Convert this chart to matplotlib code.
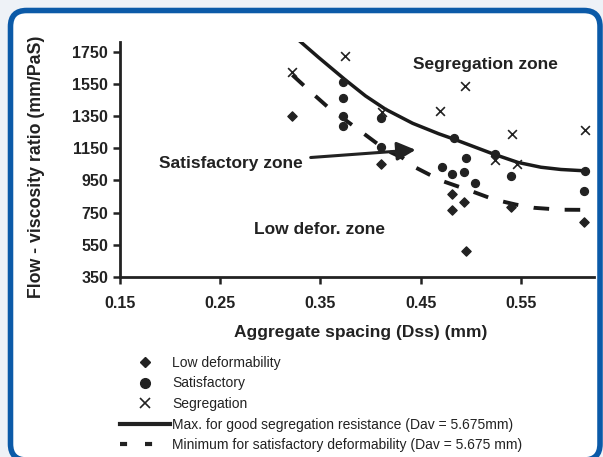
import matplotlib
matplotlib.use("Agg")
import matplotlib.pyplot as plt
from matplotlib.patches import FancyBboxPatch
from matplotlib.lines import Line2D
from matplotlib.transforms import IdentityTransform

plt.rcParams['font.family'] = ['Liberation Sans', 'DejaVu Sans']

# Data
low_x = [0.322, 0.410, 0.481, 0.481, 0.493, 0.495, 0.540, 0.613]
low_y = [1350, 1049, 863, 769, 813, 510, 786, 692]

sat_x = [0.373, 0.373, 0.373, 0.373, 0.410, 0.410, 0.483, 0.471, 0.481, 0.493, 0.495, 0.504, 0.524, 0.540, 0.614, 0.613]
sat_y = [1563, 1460, 1350, 1290, 1335, 1155, 1211, 1031, 993, 1003, 1087, 937, 1113, 977, 1008, 883]

seg_x = [0.322, 0.375, 0.411, 0.469, 0.494, 0.524, 0.541, 0.546, 0.614]
seg_y = [1626, 1723, 1377, 1381, 1537, 1080, 1238, 1051, 1263]

max_x = [0.328, 0.348, 0.375, 0.395, 0.415, 0.442, 0.468, 0.483, 0.503, 0.523, 0.547, 0.570, 0.590, 0.613]
max_y = [1823, 1715, 1574, 1475, 1392, 1305, 1240, 1207, 1160, 1113, 1062, 1032, 1018, 1010]

min_x = [0.322, 0.342, 0.357, 0.393, 0.415, 0.432, 0.445, 0.470, 0.500, 0.523, 0.545, 0.563, 0.590, 0.618]
min_y = [1605, 1491, 1408, 1242, 1140, 1090, 1030, 950, 885, 832, 800, 780, 768, 767]

xticks = [0.15, 0.25, 0.35, 0.45, 0.55]
yticks = [350, 550, 750, 950, 1150, 1350, 1550, 1750]

W, H = 603, 457
fig = plt.figure(figsize=(W / 100, H / 100), dpi=100)
fig.patch.set_facecolor('#eef2f7')

# rounded blue frame (pixel coordinates, origin bottom-left)
frame = FancyBboxPatch((10.5, -3), 590 - 0.5, H - 10.5 + 3,
                       boxstyle="round,pad=0,rounding_size=16",
                       transform=IdentityTransform(), facecolor='white',
                       edgecolor='#0b5aa8', linewidth=4, zorder=-5)
fig.patches.append(frame)

ax = fig.add_axes([120 / W, 1 - 277 / H, (594 - 120) / W, (277 - 42) / H])
ax.set_zorder(2)
ax.set_facecolor('none')
ax.set_xlim(0.15, 0.623)
ax.set_ylim(350, 1810)
for s in ['top', 'right']:
    ax.spines[s].set_visible(False)
for s in ['left', 'bottom']:
    ax.spines[s].set_linewidth(2)
    ax.spines[s].set_color('#222222')
ax.set_xticks(xticks)
ax.set_xticklabels([f"{v:.2f}" for v in xticks])
ax.set_yticks(yticks)
ax.tick_params(axis='both', direction='out', length=5, width=1.8, color='#222222',
               labelsize=11.5, labelcolor='#222222')
for lab in ax.get_xticklabels() + ax.get_yticklabels():
    lab.set_fontweight('bold')
ax.tick_params(axis='x', pad=9)

ax.set_xlabel('Aggregate spacing (Dss) (mm)', fontsize=12.5, fontweight='bold',
              color='#222222')
ax.xaxis.set_label_coords((361 - 120) / 474, -(325 - 277) / 235)
ax.set_ylabel('Flow - viscosity ratio (mm/PaS)', fontsize=12.8, fontweight='bold',
              color='#222222')
ax.yaxis.set_label_coords(-(120 - 45) / 474, (277 - 167) / 235)

ax.plot(max_x, max_y, color='#1a1a1a', lw=2.5, zorder=2)
ax.plot(min_x, min_y, color='#1a1a1a', lw=2.8, linestyle=(0, (4, 4)), zorder=2)
ax.scatter(low_x, low_y, marker='D', s=22, color='#222222', zorder=3)
ax.scatter(sat_x, sat_y, marker='o', s=32, color='#222222', zorder=3)
ax.scatter(seg_x, seg_y, marker='x', s=40, color='#222222', linewidths=1.2, zorder=3)

ax.text(0.515, 1673, 'Segregation zone', fontsize=12.5, fontweight='bold',
        color='#222222', ha='center', va='center')
ax.text(0.349, 645, 'Low defor. zone', fontsize=12.5, fontweight='bold',
        color='#222222', ha='center', va='center')
ax.annotate('Satisfactory zone', xy=(0.445, 1140), xytext=(0.332, 1056),
            fontsize=12.5, fontweight='bold', color='#222222',
            ha='right', va='center',
            arrowprops=dict(arrowstyle='-|>,head_length=0.9,head_width=0.45',
                            color='#222222', lw=2.2, shrinkA=4, shrinkB=0))

handles = [
    Line2D([], [], marker='D', ls='none', color='#222222', markersize=5),
    Line2D([], [], marker='o', ls='none', color='#222222', markersize=7),
    Line2D([], [], marker='x', ls='none', color='#222222', markersize=7, mew=1.2),
    Line2D([], [], color='#222222', lw=3),
    Line2D([], [], color='#222222', lw=3, linestyle=(0, (1.7, 4.3))),
]
labels = ['Low deformability', 'Satisfactory', 'Segregation',
          'Max. for good segregation resistance (Dav = 5.675mm)',
          'Minimum for satisfactory deformability (Dav = 5.675 mm)']
fig.legend(handles, labels, loc='upper left', bbox_to_anchor=(113 / W, 1 - 349 / H),
           frameon=False, fontsize=10, handlelength=3.6, handletextpad=0.15,
           labelspacing=0.47, borderpad=0, labelcolor='#222222')

fig.savefig('out.png', dpi=100, facecolor=fig.get_facecolor())
